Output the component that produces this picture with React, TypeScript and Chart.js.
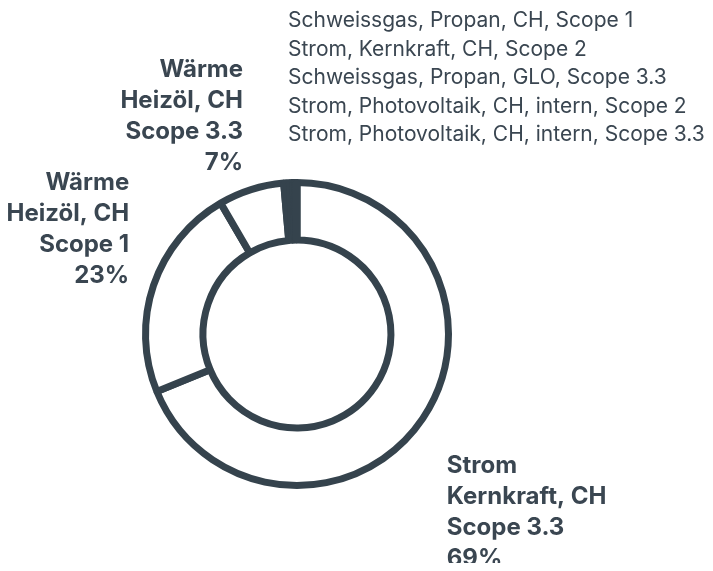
import React, { useEffect, useRef } from "react";
import { Chart, registerables } from "chart.js";

Chart.register(...registerables);

const categories = [
  "Strom\nKernkraft, CH\nScope 3.3",
  "Wärme\nHeizöl, CH\nScope 1",
  "Wärme\nHeizöl, CH\nScope 3.3",
  "Schweissgas, Propan, CH, Scope 1",
  "Strom, Kernkraft, CH, Scope 2",
  "Schweissgas, Propan, GLO, Scope 3.3",
  "Strom, Photovoltaik, CH, intern, Scope 2",
  "Strom, Photovoltaik, CH, intern, Scope 3.3",
];
const values = [68.8, 22.8, 7.0, 0.6, 0.4, 0.2, 0.1, 0.1];
const percentLabels = ["69%", "23%", "7%", "", "", "", "", ""];

const DARK = "#35434d";
const TEXT = "#3a4651";
const BW = 7;

// label placement relative to arc mid-point (style, not data)
const bigLabelLayout = [
  { dx: 21, dy: 45, align: "left" as CanvasTextAlign },
  { dx: -21, dy: -101, align: "right" as CanvasTextAlign },
  { dx: -7, dy: -117, align: "right" as CanvasTextAlign },
];

const labelPlugin = {
  id: "sliceLabels",
  afterDraw(chart: any) {
    const ctx = chart.ctx as CanvasRenderingContext2D;
    const meta = chart.getDatasetMeta(0);
    const arcs = meta.data;
    ctx.save();
    ctx.fillStyle = TEXT;
    ctx.textBaseline = "middle";
    bigLabelLayout.forEach((lay, i) => {
      const a = arcs[i].getProps(["x", "y", "startAngle", "endAngle", "outerRadius"], true);
      const mid = (a.startAngle + a.endAngle) / 2;
      const r = a.outerRadius + BW / 2;
      const px = a.x + Math.cos(mid) * r;
      const py = a.y + Math.sin(mid) * r;
      const lines = categories[i].split("\n").concat([percentLabels[i]]);
      ctx.font = "700 24px Inter";
      ctx.textAlign = lay.align;
      lines.forEach((ln, k) => {
        ctx.fillText(ln, px + lay.dx, py + lay.dy + k * 31);
      });
    });
    const first = arcs[3].getProps(["x", "y", "outerRadius"], true);
    const topY = first.y - first.outerRadius - BW / 2;
    ctx.font = "400 21px Inter";
    ctx.textAlign = "left";
    for (let i = 3; i < categories.length; i++) {
      ctx.fillText(categories[i], first.x - 9, topY - 158 + (i - 3) * 28.5);
    }
    ctx.restore();
  },
};

export default function App() {
  const ref = useRef<HTMLCanvasElement | null>(null);
  useEffect(() => {
    if (!ref.current) return;
    const chart = new Chart(ref.current, {
      type: "doughnut",
      data: {
        labels: categories,
        datasets: [
          {
            data: values,
            backgroundColor: "#ffffff",
            borderColor: DARK,
            borderWidth: BW,
          },
        ],
      },
      options: {
        responsive: false,
        animation: false,
        cutout: "62%",
        layout: { padding: { left: 134, top: 179, right: 253, bottom: 82 } },
        plugins: {
          legend: { display: false },
          tooltip: { enabled: false },
        },
      },
      plugins: [labelPlugin],
    });
    return () => chart.destroy();
  }, []);
  return (
    <canvas
      ref={ref}
      width={697}
      height={571}
      style={{ display: "block", marginTop: -8, marginBottom: -8 }}
    />
  );
}
